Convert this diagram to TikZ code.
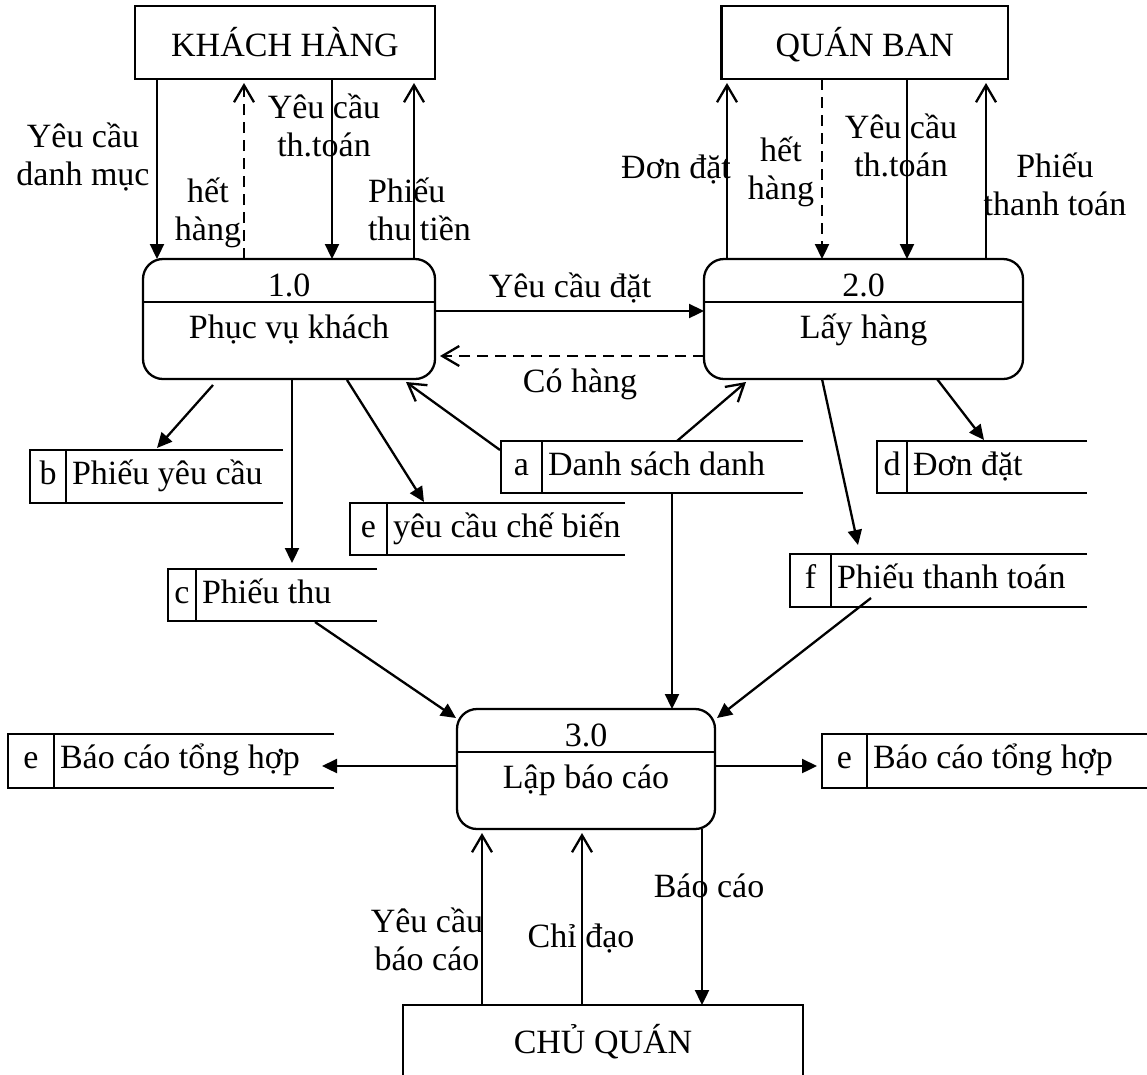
\documentclass[tikz,border=0pt]{standalone}
\usepackage{fontspec}
\setmainfont{Liberation Serif}
\usetikzlibrary{arrows.meta}

% two-line labels whose baseline is that of the first line
\newcommand\twoline[2]{\begin{tabular}[t]{@{}c@{}}#1\\#2\end{tabular}}
\newcommand\twolineleft[2]{\begin{tabular}[t]{@{}l@{}}#1\\#2\end{tabular}}

% data store: name, left, divider, right, top, bottom, id, label
\newcommand\datastore[8]{%
  \node[storebox, minimum width={(#4-#2)*1pt}, minimum height={(#6-#5)*1pt},
        anchor=north west] (#1) at (#2,#5) {};
  \draw[storeline] (#1.north east) -- (#1.north west) -- (#1.south west) -- (#1.south east);
  \draw[divline] (#3,#5) -- (#3,#6);
  \node[lbl, anchor=base] at ({(#2+#3)/2},#5+34) {#7};
  \node[lbl, anchor=base west] at (#3+6,#5+34) {#8};
}

\begin{document}
\begin{tikzpicture}[x=1pt, y=-1pt,
  font={\fontsize{34}{38}\selectfont},
  line width=2.3pt,
  lbl/.style={inner sep=0pt, outer sep=0pt},
  entity/.style={draw, rectangle, inner sep=0pt, outer sep=0pt, text height=27pt, text depth=0pt},
  proc/.style={draw, rectangle, rounded corners=20pt, inner sep=0pt, outer sep=0pt, minimum height=120pt},
  storebox/.style={rectangle, inner sep=0pt, outer sep=0pt},
  storeline/.style={line width=2.3pt},
  divline/.style={line width=1.4pt},
  fa/.style={-{Triangle[length=15pt,width=14pt]}},
  oa/.style={-{Straight Barb[length=17pt,width=20pt]}},
  dashflow/.style={dash pattern=on 11pt off 7pt}
]
\useasboundingbox (0,0) rectangle (1147,1074);
\fill[white] (0,0) rectangle (1147,1074);

% external entities
\node[entity, minimum width=300pt, minimum height=73pt, anchor=north west] (kh) at (135,6) {KHÁCH HÀNG};
\node[entity, minimum width=286.5pt, minimum height=73pt, anchor=north west] (qb) at (721.5,6) {QUÁN BAN};
\node[entity, minimum width=400pt, minimum height=80pt, anchor=north west, text height=22pt, text depth=6pt] (cq) at (403,1005) {CHỦ QUÁN};

% processes
\node[proc, minimum width=292pt, anchor=north west] (p1) at (143,259) {};
\draw ([yshift=-43pt]p1.north west) -- ([yshift=-43pt]p1.north east);
\node[lbl, anchor=base] at ([yshift=-37pt]p1.north) {1.0};
\node[lbl, anchor=base] at ([yshift=-79pt]p1.north) {Phục vụ khách};

\node[proc, minimum width=319pt, anchor=north west] (p2) at (704,259) {};
\draw ([yshift=-43pt]p2.north west) -- ([yshift=-43pt]p2.north east);
\node[lbl, anchor=base] at ([yshift=-37pt]p2.north) {2.0};
\node[lbl, anchor=base] at ([yshift=-79pt]p2.north) {Lấy hàng};

\node[proc, minimum width=258pt, anchor=north west] (p3) at (457,709) {};
\draw ([yshift=-43pt]p3.north west) -- ([yshift=-43pt]p3.north east);
\node[lbl, anchor=base] at ([yshift=-37pt]p3.north) {3.0};
\node[lbl, anchor=base] at ([yshift=-79pt]p3.north) {Lập báo cáo};

% data stores
\datastore{sb}{30}{66}{283}{450}{503}{b}{Phiếu yêu cầu}
\datastore{sc}{168}{196}{377}{569}{621}{c}{Phiếu thu}
\datastore{se}{350}{387}{625}{503}{555}{e}{yêu cầu chế biến}
\datastore{sa}{501}{542}{803}{441}{493}{a}{Danh sách danh}
\datastore{sd}{877}{907}{1087}{441}{493}{d}{Đơn đặt}
\datastore{sf}{790}{831}{1087}{554}{607}{f}{Phiếu thanh toán}
\datastore{sl}{8}{54}{334}{734}{788}{e}{Báo cáo tổng hợp}
\datastore{sr}{822}{867}{1150}{734}{788}{e}{Báo cáo tổng hợp}

% flows between KHÁCH HÀNG and 1.0
\draw[fa] ([xshift=22pt]kh.south west) -- ([xshift=14pt]p1.north west);
\draw[oa, dashflow] ([xshift=101pt]p1.north west) -- ([shift={(109,4)}]kh.south west);
\draw[fa] ([xshift=197pt]kh.south west) -- ([xshift=189pt]p1.north west);
\draw[oa] ([xshift=271pt]p1.north west) -- ([shift={(279,4)}]kh.south west);
\node[lbl, anchor=base] at (83,147) {\twoline{Yêu cầu}{danh mục}};
\node[lbl, anchor=base] at (208,202) {\twoline{hết}{hàng}};
\node[lbl, anchor=base] at (324,118) {\twoline{Yêu cầu}{th.toán}};
\node[lbl, anchor=base west] at (368,202) {\twolineleft{Phiếu}{thu tiền}};

% flows between QUÁN BAN and 2.0
\draw[oa] ([xshift=23pt]p2.north west) -- ([shift={(5.5,4)}]qb.south west);
\draw[fa, dashflow] ([xshift=100.5pt]qb.south west) -- ([xshift=118pt]p2.north west);
\draw[fa] ([xshift=185.5pt]qb.south west) -- ([xshift=203pt]p2.north west);
\draw[oa] ([xshift=282pt]p2.north west) -- ([shift={(264.5,4)}]qb.south west);
\node[lbl, anchor=base] at (676,178) {Đơn đặt};
\node[lbl, anchor=base] at (781,161) {\twoline{hết}{hàng}};
\node[lbl, anchor=base] at (901,138) {\twoline{Yêu cầu}{th.toán}};
\node[lbl, anchor=base] at (1055,177) {\twoline{Phiếu}{thanh toán}};

% flows between 1.0 and 2.0
\draw[fa] ([yshift=-52pt]p1.north east) -- ([yshift=-52pt]p2.north west);
\draw[oa, dashflow] ([yshift=-97pt]p2.north west) -- ([shift={(5,97)}]p1.north east);
\node[lbl, anchor=base] at (570,297) {Yêu cầu đặt};
\node[lbl, anchor=base] at (580,392) {Có hàng};

% flows from 1.0 to its stores
\draw[fa] ([shift={(70,6)}]p1.south west) -- ([shift={(127,-2)}]sb.north west);
\draw[fa] ([xshift=149pt]p1.south west) -- ([shift={(124,-6)}]sc.north west);
\draw[fa] ([shift={(204,1)}]p1.south west) -- ([shift={(74,-1)}]se.north west);

% flows out of store a
\draw[oa] ([shift={(-1,9)}]sa.north west) -- ([shift={(263,3)}]p1.south west);
\draw[oa] ([xshift=176pt]sa.north west) -- ([shift={(42,3)}]p2.south west);
\draw[fa] ([xshift=171pt]sa.south west) -- ([xshift=215pt]p3.north west);

% flows from 2.0 to its stores
\draw[fa] ([xshift=233pt]p2.south west) -- ([shift={(107,-1)}]sd.north west);
\draw[fa] ([xshift=118pt]p2.south west) -- ([shift={(68,-9)}]sf.north west);

% flows into and out of 3.0
\draw[fa] ([shift={(147,1)}]sc.south west) -- ([shift={(-1,9)}]p3.north west);
\draw[fa] ([shift={(81,-9)}]sf.south west) -- ([shift={(2,9)}]p3.north east);
\draw[fa] ([yshift=-57pt]p3.north west) -- ([shift={(-12,32)}]sl.north east);
\draw[fa] ([yshift=-57pt]p3.north east) -- ([shift={(-5,32)}]sr.north west);

% flows between CHỦ QUÁN and 3.0
\draw[oa] ([xshift=79pt]cq.north west) -- ([shift={(25,4)}]p3.south west);
\draw[oa] ([xshift=179pt]cq.north west) -- ([shift={(125,4)}]p3.south west);
\draw[fa] ([xshift=245pt]p3.south west) -- ([xshift=299pt]cq.north west);
\node[lbl, anchor=base] at (427,932) {\twoline{Yêu cầu}{báo cáo}};
\node[lbl, anchor=base] at (581,947) {Chỉ đạo};
\node[lbl, anchor=base] at (709,897) {Báo cáo};
\end{tikzpicture}
\end{document}
